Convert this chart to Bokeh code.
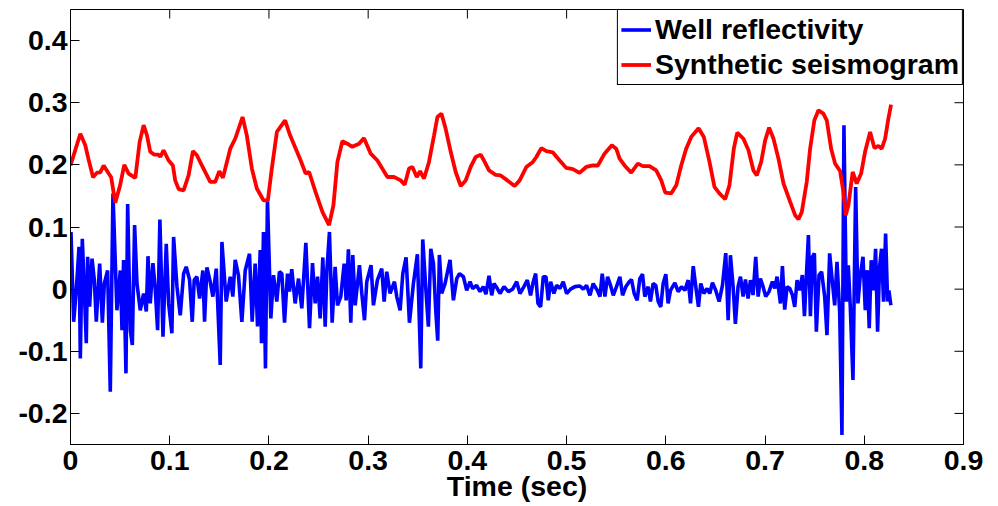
import math
from bokeh.plotting import figure
from bokeh.models import Range1d, FixedTicker, CustomJSTickFormatter
from bokeh.embed import file_html
from bokeh.resources import INLINE

# ---------------- data ----------------
well_t = [0.0005, 0.0032, 0.0059, 0.0086, 0.0099, 0.0119, 0.0139, 0.0159, 0.0173, 0.0193,
          0.0217, 0.024, 0.026, 0.0294, 0.0321, 0.0341, 0.0374, 0.0401, 0.0428, 0.0452,
          0.0468, 0.0502, 0.0519, 0.0535, 0.0559, 0.0576, 0.0603, 0.0623, 0.0646, 0.067,
          0.0703, 0.0737, 0.0764, 0.0781, 0.0804, 0.0831, 0.0854, 0.0878, 0.0901, 0.0932,
          0.0965, 0.0989, 0.1022, 0.1039, 0.1073, 0.1106, 0.114, 0.1166, 0.12, 0.1227,
          0.1247, 0.1274, 0.1301, 0.1334, 0.1351, 0.1375, 0.1408, 0.1435, 0.1469, 0.1509,
          0.1526, 0.1569, 0.161, 0.1636, 0.166, 0.1693, 0.1727, 0.1761, 0.1804, 0.1831,
          0.1861, 0.1885, 0.1912, 0.1925, 0.1945, 0.1965, 0.1985,
          0.2019, 0.2046, 0.2079, 0.2106, 0.213, 0.2157, 0.2187, 0.2207, 0.223, 0.2264,
          0.2298, 0.2331, 0.2372, 0.2409, 0.2439, 0.2466, 0.249, 0.2516, 0.2543, 0.2567,
          0.2584, 0.261, 0.2637, 0.2667, 0.2691, 0.2724, 0.2758, 0.2778, 0.2801, 0.2825,
          0.2845, 0.2869, 0.2912, 0.2936, 0.2963, 0.2986, 0.3029, 0.3053, 0.3093, 0.3137,
          0.3161, 0.3187, 0.3221, 0.3265, 0.3288, 0.3322, 0.3349, 0.3382, 0.3416, 0.3456,
          0.3496, 0.353, 0.355, 0.3584, 0.3607, 0.3631, 0.3658, 0.3681, 0.3701, 0.3718,
          0.3741, 0.3775, 0.3825, 0.3859, 0.3893, 0.392, 0.396, 0.3993, 0.4027,
          0.4053, 0.4093, 0.4127, 0.416, 0.4187, 0.4218, 0.4245, 0.4268, 0.4302, 0.4329,
          0.4369, 0.4413, 0.4456, 0.4497, 0.453, 0.457, 0.4604, 0.4637, 0.4664, 0.4688,
          0.4711, 0.4738, 0.4765, 0.4792, 0.4815, 0.4839, 0.4872, 0.4899, 0.4933, 0.4966,
          0.5, 0.504, 0.5084, 0.5134, 0.5168, 0.5201, 0.5235, 0.5268, 0.5309, 0.5336,
          0.5359, 0.5386, 0.5413, 0.5443, 0.547, 0.5503, 0.5537, 0.5564, 0.5597, 0.5631,
          0.5654, 0.5681, 0.5711, 0.5738, 0.5765, 0.5788, 0.5822, 0.5845, 0.5872, 0.5899,
          0.5923, 0.5949, 0.5973, 0.6, 0.6023, 0.6047,
          0.6091, 0.6124, 0.6158, 0.6192, 0.6225, 0.6249, 0.6276, 0.6302, 0.6329, 0.6352,
          0.6383, 0.6416, 0.6443, 0.647, 0.6503, 0.6537, 0.6571, 0.6604, 0.6628, 0.6651,
          0.6678, 0.6701, 0.6728, 0.6752, 0.6779, 0.6802, 0.6829, 0.6853, 0.6879, 0.6906,
          0.693, 0.6953, 0.698, 0.7007, 0.704, 0.7074, 0.7098, 0.7121, 0.7155, 0.7175,
          0.7198, 0.7222, 0.7249, 0.7276, 0.7299, 0.7323, 0.735, 0.7376, 0.7397, 0.7417,
          0.7437, 0.7457, 0.7477, 0.7497, 0.7517, 0.7544, 0.757, 0.7601, 0.7624, 0.7651,
          0.7675, 0.7702, 0.7725, 0.7752, 0.7775, 0.7795, 0.7819, 0.7839, 0.7859, 0.7886,
          0.7913, 0.7936, 0.796, 0.7987, 0.801, 0.803, 0.805, 0.807, 0.8094, 0.8114,
          0.8134, 0.8154, 0.8174, 0.8194, 0.8215, 0.8235, 0.8248, 0.8268]
well_r = [0.092, -0.0525, 0.0, 0.068, -0.1115, 0.081, 0.0, -0.087, 0.052, -0.028,
          0.049, 0.015, -0.0525, 0.041, -0.054, 0.009, 0.03, -0.165, 0.154, 0.041,
          -0.034, 0.03, -0.066, 0.047, -0.1355, 0.137, -0.066, -0.09, 0.103, 0.009,
          -0.034, -0.007, -0.036, 0.053, -0.023, 0.042, 0.0, -0.066, 0.112, -0.0766,
          0.073, -0.023, -0.071, 0.084, 0.004, -0.042, 0.025, 0.036, 0.015, -0.0525,
          0.015, 0.02, -0.015, 0.03, -0.0525, 0.035, 0.012, -0.012, 0.033, -0.122,
          0.076, -0.02, 0.02, -0.012, 0.047, 0.022, -0.0525, 0.03, 0.057, -0.0525,
          0.041, -0.06, 0.063, -0.087, 0.092, -0.1275, 0.145,
          -0.047, 0.0225, -0.02, 0.028, 0.025, -0.054, 0.025, -0.004, 0.032, -0.023,
          0.017, -0.031, 0.0745, -0.063, 0.042, -0.023, 0.02, -0.047, 0.051, -0.0605,
          0.0305, 0.092, -0.054, 0.036, -0.026, -0.012, 0.041, -0.018, 0.064, -0.054,
          0.055, -0.026, 0.0385, -0.007, -0.05, 0.012, 0.0385, -0.026, 0.0145, 0.033,
          -0.02, 0.028, -0.007, 0.012, -0.012, -0.034, 0.025, 0.051, -0.054, 0.009,
          0.056, -0.1275, 0.08, -0.007, -0.0605, 0.065, 0.041, -0.034, -0.083, 0.055,
          -0.007, 0.009, 0.047, -0.018, 0.017, 0.025, 0.02, -0.002, 0.012,
          0.001, 0.006, -0.004, 0.004, -0.008, 0.0215, -0.01, 0.009, 0.001, -0.007,
          0.004, -0.004, 0.0, 0.012, -0.007, 0.004, 0.0145, -0.01, 0.012, 0.025,
          -0.023, -0.0285, 0.02, 0.02, -0.018, 0.012, -0.007, 0.006, 0.001, 0.012,
          -0.007, 0.0, 0.004, 0.005, 0.0, 0.006, -0.01, 0.009, -0.002, -0.012,
          0.025, -0.012, 0.02, 0.006, -0.01, 0.004, 0.02, -0.01, 0.004, 0.012,
          0.0155, -0.007, -0.018, 0.017, 0.024, -0.012, 0.004, -0.02, 0.009, 0.006,
          -0.02, -0.0285, 0.009, 0.024, -0.023, -0.002,
          0.01, -0.004, 0.004, -0.002, 0.0145, -0.023, 0.037, 0.004, -0.0285, 0.009,
          -0.007, 0.001, -0.007, 0.0105, -0.002, -0.02, 0.0065, 0.058, -0.05, 0.0545,
          0.004, -0.056, 0.004, 0.02, -0.012, 0.0155, -0.015, 0.0145, -0.0095, 0.052,
          -0.012, 0.017, 0.004, -0.012, -0.004, 0.012, 0.001, 0.02, -0.023, 0.037,
          -0.033, 0.004, 0.001, -0.0095, -0.0285, 0.0145, -0.002, 0.0225, -0.0435, 0.0225,
          0.087, -0.0435, 0.052, 0.0575, -0.0685, 0.0225, 0.028, -0.012, -0.074, 0.0575,
          0.017, -0.026, 0.044, -0.0365, -0.2347, 0.2637, -0.02, 0.0385, -0.0285, -0.146,
          0.1645, -0.023, 0.0225, 0.052, -0.034, 0.0305, -0.063, 0.0465, -0.002, 0.065,
          -0.0685, 0.036, 0.065, -0.02, 0.0895, -0.02, -0.002, -0.026]

synth_t = [0.0, 0.0099, 0.0149, 0.018, 0.0227, 0.0267, 0.030, 0.0334, 0.0385, 0.041,
           0.0451, 0.050, 0.0542, 0.0586, 0.0653, 0.0697, 0.0737, 0.077, 0.0804, 0.0844,
           0.0888, 0.0905, 0.0938, 0.0989, 0.1032, 0.1055, 0.109, 0.114, 0.119, 0.1234,
           0.1274, 0.1324, 0.1408, 0.1458, 0.150, 0.1536, 0.161, 0.166, 0.1734, 0.1777,
           0.1828, 0.1878, 0.1945, 0.1989, 0.2029, 0.208, 0.2163, 0.2213,
           0.232, 0.237, 0.2405, 0.247, 0.254, 0.2606, 0.265, 0.269, 0.274, 0.279,
           0.284, 0.2908, 0.2958, 0.3026, 0.3093, 0.3194, 0.326, 0.3328, 0.3368, 0.3412,
           0.3446, 0.349, 0.3523, 0.3563, 0.3613, 0.3664, 0.3698, 0.3738, 0.3781, 0.3832,
           0.3882, 0.3933, 0.3983, 0.4033, 0.4084, 0.4134, 0.4167, 0.4218, 0.4285, 0.4335,
           0.4403,
           0.4476, 0.4527, 0.4594, 0.466, 0.4695, 0.4745, 0.4796, 0.4862, 0.493, 0.4997,
           0.5063, 0.513, 0.5198, 0.5265, 0.5315, 0.5382, 0.5456, 0.55, 0.5534, 0.5584,
           0.5651, 0.5718, 0.5769, 0.5836, 0.5903, 0.5954, 0.5994, 0.6054, 0.6105, 0.6155,
           0.6205, 0.6256, 0.633, 0.6383, 0.644, 0.649, 0.654, 0.6598, 0.6641, 0.6685,
           0.672,
           0.6782, 0.6833, 0.6883, 0.6917, 0.6961, 0.7001, 0.7041, 0.7085, 0.7135, 0.7186,
           0.7253, 0.7303, 0.7337, 0.737, 0.742, 0.7454, 0.7497, 0.7538, 0.7588, 0.7622,
           0.7666, 0.7706, 0.7756, 0.779, 0.7813, 0.784, 0.7883, 0.7924, 0.7968, 0.8008,
           0.8059, 0.8102, 0.8142, 0.8176, 0.821, 0.8243, 0.827]
synth_amp = [0.199, 0.250, 0.2315, 0.21, 0.18, 0.1875, 0.188, 0.199, 0.186, 0.18,
             0.139, 0.167, 0.200, 0.186, 0.179, 0.237, 0.264, 0.248, 0.221, 0.2165,
             0.2165, 0.2127, 0.2235, 0.207, 0.199, 0.175, 0.161, 0.159, 0.183, 0.222,
             0.2155, 0.199, 0.1725, 0.1725, 0.19, 0.179, 0.226, 0.242, 0.277, 0.2475,
             0.194, 0.162, 0.143, 0.143, 0.194, 0.253, 0.2715, 0.2475,
             0.207, 0.186, 0.1885, 0.156, 0.124, 0.103, 0.135, 0.2047, 0.238, 0.234,
             0.229, 0.234, 0.243, 0.218, 0.207, 0.1805, 0.1805, 0.175, 0.168, 0.194,
             0.1966, 0.1805, 0.19, 0.178, 0.2047, 0.2475, 0.277, 0.2825, 0.258, 0.221,
             0.1885, 0.166, 0.175, 0.1966, 0.2127, 0.2165, 0.207, 0.191, 0.184, 0.183,
             0.175,
             0.166, 0.175, 0.1966, 0.2047, 0.2127, 0.227, 0.222, 0.22, 0.207, 0.195,
             0.193, 0.187, 0.1966, 0.199, 0.199, 0.218, 0.2315, 0.226, 0.21, 0.199,
             0.1875, 0.202, 0.198, 0.198, 0.191, 0.175, 0.1555, 0.154, 0.167, 0.199,
             0.226, 0.245, 0.259, 0.245, 0.2047, 0.1645, 0.154, 0.1447, 0.167, 0.226,
             0.252,
             0.242, 0.2235, 0.191, 0.183, 0.2047, 0.2395, 0.26, 0.242, 0.21, 0.17,
             0.1404, 0.119, 0.1125, 0.124, 0.1725, 0.226, 0.2717, 0.2878, 0.2825, 0.2717,
             0.226, 0.202, 0.19, 0.156, 0.119, 0.135, 0.1885, 0.17, 0.186, 0.221,
             0.253, 0.227, 0.2305, 0.226, 0.242, 0.2745, 0.297]

x_ticks = [0, 0.1, 0.2, 0.3, 0.4, 0.5, 0.6, 0.7, 0.8, 0.9]
y_ticks = [-0.2, -0.1, 0, 0.1, 0.2, 0.3, 0.4]
x_limits = (0, 0.9)
y_limits = (-0.25, 0.45)
series_names = ["Well reflectivity", "Synthetic seismogram"]
x_label = "Time (sec)"

# ---------------- figure ----------------
FONT = "Liberation Sans"
FS = "28.5px"
TICK = 9

p = figure(width=998, height=506, output_backend="svg", toolbar_location=None,
           title=None,
           x_range=Range1d(*x_limits), y_range=Range1d(*y_limits),
           min_border_left=70, min_border_right=35, min_border_top=9,
           min_border_bottom=62)
p.xgrid.visible = False
p.ygrid.visible = False
p.outline_line_color = "black"
p.outline_line_width = 1
p.background_fill_color = "white"
p.border_fill_color = "white"

fmt = CustomJSTickFormatter(code="return Math.abs(tick) < 1e-9 ? '0' : tick.toFixed(1);")


def style_axis(ax, ticks):
    ax.ticker = FixedTicker(ticks=ticks)
    ax.formatter = fmt
    ax.axis_line_color = "black"
    ax.axis_line_width = 1
    ax.major_tick_in = TICK
    ax.major_tick_out = 0
    ax.major_tick_line_color = "black"
    ax.major_tick_line_width = 1
    ax.minor_tick_in = 0
    ax.minor_tick_out = 0
    ax.major_label_text_font = FONT
    ax.major_label_text_font_style = "bold"
    ax.major_label_text_color = "black"
    ax.major_label_text_font_size = FS


xb = p.xaxis[0]
style_axis(xb, x_ticks)
xb.major_label_standoff = 6
xb.axis_label = x_label
xb.axis_label_text_font = FONT
xb.axis_label_text_font_size = FS
xb.axis_label_text_font_style = "bold"
xb.axis_label_text_color = "black"
xb.axis_label_standoff = -3

yl = p.yaxis[0]
style_axis(yl, y_ticks)
yl.major_label_standoff = 3

# mirrored inward ticks on the top and right edges of the box
p.ray(x=x_ticks, y=[y_limits[1]] * len(x_ticks), length=TICK, length_units="screen",
      angle=-math.pi / 2, line_color="black", line_width=1)
p.ray(x=[x_limits[1]] * len(y_ticks), y=y_ticks, length=TICK, length_units="screen",
      angle=math.pi, line_color="black", line_width=1)

p.line(well_t, well_r, line_color="#0000FF", line_width=3.6,
       legend_label=series_names[0])
p.line(synth_t, synth_amp, line_color="#FF0000", line_width=3.8,
       legend_label=series_names[1])

lg = p.legend[0]
lg.location = "top_right"
lg.margin = 0
lg.padding = 3
lg.spacing = 2
lg.label_height = 33
lg.glyph_height = 33
lg.glyph_width = 30
lg.label_standoff = 4
lg.border_line_color = "black"
lg.border_line_width = 1
lg.border_line_alpha = 1
lg.background_fill_color = "white"
lg.background_fill_alpha = 1
lg.label_text_font = FONT
lg.label_text_font_size = FS
lg.label_text_font_style = "bold"
lg.label_text_color = "black"

open("out.html", "w").write(file_html(p, INLINE))
